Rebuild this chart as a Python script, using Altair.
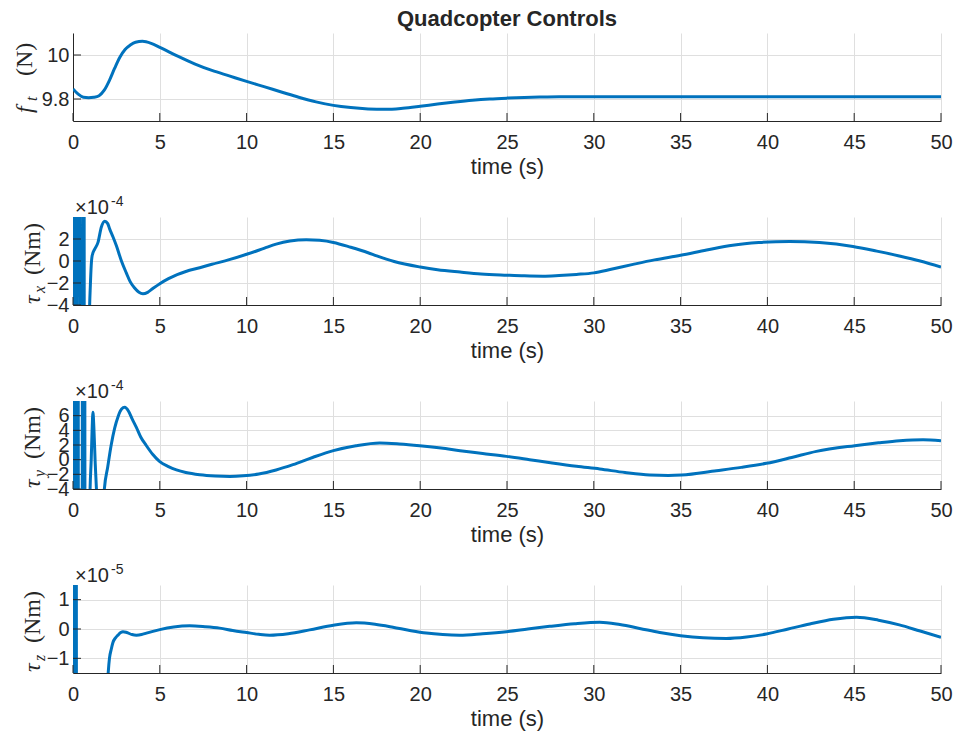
import altair as alt
import pandas as pd

# ---------------- data ----------------
t_ft = [0, 0.3, 0.6, 0.9, 1.2, 1.5, 1.8, 2.1, 2.4, 2.7, 3.0, 3.3, 3.6, 4.0, 4.5, 5.0,
        6.0, 7.0, 8.0, 9.0, 10.0, 11.0, 12.0, 13.0, 14.0, 15.0, 16.0, 17.0, 18.0, 19.0,
        20.0, 21.0, 22.0, 23.0, 24.0, 25.0, 26.0, 27.0, 28.0, 30.0, 35.0, 40.0, 45.0, 50.0]
v_ft = [9.846, 9.822, 9.808, 9.806, 9.808, 9.815, 9.84, 9.885, 9.94, 9.99, 10.025, 10.045,
        10.058, 10.062, 10.053, 10.035, 9.996, 9.96, 9.93, 9.905, 9.88, 9.856, 9.832, 9.808,
        9.787, 9.771, 9.761, 9.755, 9.753, 9.758, 9.767, 9.777, 9.786, 9.794, 9.8, 9.804,
        9.807, 9.809, 9.81, 9.81, 9.81, 9.81, 9.81, 9.81]

# tau_x in units of 1e-4 Nm
t_tx = [0, 0.03, 0.06, 0.09, 0.12, 0.15, 0.18, 0.21, 0.24,
        0.54, 0.57, 0.60, 0.63, 0.66,
        0.9, 0.95, 1.0, 1.05, 1.1, 1.25, 1.44, 1.63, 1.83, 2.0, 2.11, 2.3, 2.5, 2.79,
        3.07, 3.3, 3.55, 3.8, 4.03, 4.3, 4.6, 5.0, 5.5, 6.0, 6.5, 7.3, 8.0, 9.0, 10.0,
        11.0, 11.7, 12.5, 13.44, 14.2, 15.0, 16.0, 17.0, 17.5, 18.5, 20.0, 21.0, 22.3,
        23.5, 25.0, 26.0, 27.07, 28.0, 29.0, 30.0, 31.0, 32.26, 33.5, 35.0, 36.5, 38.0,
        39.5, 41.28, 43.0, 44.93, 46.3, 47.6, 48.8, 50.0]
v_tx = [40, -40, 40, -40, 40, -40, 40, -40, 40,
        -40, 40, -40, 40, -40,
        -10, -4.6, -2.2, -0.4, 0.46, 1.08, 1.69, 3.07, 3.62, 3.4, 2.92, 2.2, 1.38, 0.0,
        -1.08, -1.9, -2.46, -2.85, -2.98, -2.85, -2.5, -2.06, -1.6, -1.23, -0.95, -0.61,
        -0.3, 0.12, 0.61, 1.15, 1.53, 1.82, 1.94, 1.88, 1.69, 1.25, 0.75, 0.46, -0.05,
        -0.55, -0.8, -1.01, -1.18, -1.29, -1.35, -1.38, -1.32, -1.22, -1.08, -0.75, -0.31,
        0.1, 0.52, 1.0, 1.44, 1.68, 1.78, 1.68, 1.32, 0.9, 0.46, 0.0, -0.55]

# tau_y in units of 1e-4 Nm
t_ty = [0, 0.03, 0.06, 0.09,
        0.20, 0.23, 0.26, 0.29, 0.32,
        0.52, 0.55, 0.58, 0.61, 0.64, 0.67, 0.70,
        0.92, 0.98, 1.05, 1.1, 1.15, 1.2, 1.28, 1.36, 1.5, 1.7,
        1.8, 2.0, 2.2, 2.4, 2.6, 2.8, 2.98, 3.2, 3.4, 3.65, 3.9, 4.23, 4.6, 5.0, 5.5,
        5.96, 6.5, 7.3, 8.2, 9.03, 9.8, 10.7, 11.7, 12.67, 13.8, 15.0, 16.3, 17.67, 18.8,
        19.97, 21.2, 22.3, 23.6, 24.97, 26.3, 27.6, 29.0, 30.34, 31.8, 33.22, 34.3, 35.05,
        37.06, 38.5, 39.94, 41.4, 42.82, 45.03, 46.4, 47.62, 48.97, 50.0]
v_ty = [40, -40, 40, -40,
        -40, 40, -40, 40, -40,
        -40, 40, -40, 40, -40, 40, -40,
        -15, -4.5, 0.0, 4.0, 6.45, 4.5, -0.5, -4.5, -15, -10,
        -4.2, -1.0, 2.0, 4.3, 5.9, 6.9, 7.14, 6.6, 5.6, 4.4, 3.1, 1.9, 0.7, -0.27, -0.95,
        -1.4, -1.75, -2.05, -2.22, -2.28, -2.2, -1.95, -1.4, -0.68, 0.3, 1.23, 1.9, 2.28,
        2.15, 1.91, 1.58, 1.23, 0.85, 0.45, 0.0, -0.45, -0.9, -1.27, -1.75, -2.09, -2.15,
        -2.09, -1.5, -1.05, -0.5, 0.3, 1.13, 1.91, 2.3, 2.59, 2.73, 2.59]

# tau_z in units of 1e-5 Nm
t_tz = [0, 0.03, 0.06, 0.09, 0.12, 0.15, 0.18, 0.21,
        1.0, 1.9, 1.98, 2.04, 2.1, 2.2, 2.3, 2.45, 2.59, 2.75, 2.88, 3.1, 3.4, 3.65, 3.95,
        4.23, 4.6, 5.0, 5.8, 6.72, 7.6, 8.45, 9.2, 10.0, 10.7, 11.33, 12.4, 13.63, 15.0,
        16.32, 17.4, 18.43, 19.4, 20.35, 21.3, 22.27, 23.6, 24.97, 26.2, 27.46, 28.9,
        30.34, 31.5, 32.64, 33.8, 35.0, 36.3, 37.63, 38.8, 39.94, 41.2, 42.44, 43.8,
        45.13, 46.4, 47.6, 48.8, 50.0]
v_tz = [20, -20, 20, -20, 20, -20, 20, -20,
        -20, -5, -2.0, -1.4, -1.0, -0.7, -0.46, -0.3, -0.21, -0.12, -0.09, -0.12, -0.19,
        -0.21, -0.19, -0.14, -0.08, -0.02, 0.07, 0.11, 0.08, 0.03, -0.05, -0.12, -0.18,
        -0.21, -0.16, -0.03, 0.13, 0.21, 0.16, 0.06, -0.05, -0.14, -0.19, -0.21, -0.16,
        -0.09, 0.0, 0.09, 0.18, 0.23, 0.15, 0.02, -0.12, -0.23, -0.3, -0.32, -0.27, -0.17,
        0.0, 0.17, 0.33, 0.4, 0.3, 0.14, -0.07, -0.28]

x_ticks = [0, 5, 10, 15, 20, 25, 30, 35, 40, 45, 50]

# ---------------- style ----------------
W = 868
H = 88
BLUE = "#0072BD"
INK = "#262626"
FONT = "Liberation Sans"
SERIF = "Liberation Serif"
FS = 20
ONE = alt.Data(values=[{"k": 0}])


def txt(text, x, y, size=FS, font=FONT, angle=0, align="left", baseline="alphabetic",
        weight="normal", style="normal"):
    return alt.Chart(ONE).mark_text(
        text=text, font=font, fontSize=size, angle=angle, align=align,
        baseline=baseline, fontWeight=weight, fontStyle=style, color=INK
    ).encode(x=alt.value(x), y=alt.value(y))


def panel(t, v, domain, yticks, label, exponent=None, title=None):
    df = pd.DataFrame({"t": t, "v": v})
    xscale = alt.Scale(domain=[0, 50], nice=False, zero=False)
    yscale = alt.Scale(domain=domain, nice=False, zero=False)
    xaxis = alt.Axis(values=x_ticks, title="time (s)", grid=True, ticks=False,
                     labelFlush=False, labelPadding=11, titlePadding=4,
                     labelFont=FONT, titleFont=FONT, labelFontSize=FS, titleFontSize=22,
                     titleFontWeight="normal", labelColor=INK, titleColor=INK,
                     domainColor=INK, gridColor="#dfdfdf", format="~g")
    yaxis = alt.Axis(values=yticks, title=None, grid=True, ticks=False,
                     labelOverlap=False, labelFlush=False, labelPadding=4,
                     labelFont=FONT, labelFontSize=FS, labelColor=INK,
                     domainColor=INK, gridColor="#dfdfdf", format="~g")
    line = alt.Chart(df).mark_line(color=BLUE, strokeWidth=3, clip=True,
                                   interpolate="monotone").encode(
        x=alt.X("t:Q", scale=xscale, axis=xaxis),
        y=alt.Y("v:Q", scale=yscale, axis=yaxis))
    xt = alt.Chart(pd.DataFrame({"t": x_ticks})).mark_rule(color=INK, strokeWidth=1).encode(
        x=alt.X("t:Q", scale=xscale, axis=xaxis), y=alt.value(H), y2=alt.value(H - 8))
    yt = alt.Chart(pd.DataFrame({"v": yticks})).mark_rule(color=INK, strokeWidth=1).encode(
        y=alt.Y("v:Q", scale=yscale, axis=yaxis), x=alt.value(0), x2=alt.value(8))
    layers = [line, xt, yt]
    main, sub, unit, base_x, y0, y_sub, y_unit = label
    layers.append(txt(main, base_x, y0, size=24, font=SERIF, angle=270, style="italic"))
    layers.append(txt(sub, base_x + 5, y_sub, size=16, font=SERIF, angle=270, style="italic"))
    layers.append(txt(unit, base_x, y_unit, size=24, font=SERIF, angle=270))
    if exponent:
        layers.append(txt("\u00d710", 2, -3))
        layers.append(txt(exponent, 38, -11, size=14))
    if title:
        layers.append(txt(title, W / 2, -14, align="center", baseline="middle",
                          weight="bold", size=22))
    return alt.layer(*layers).properties(width=W, height=H)


p1 = panel(t_ft, v_ft, [9.7, 10.1], [9.8, 10.0],
           ("f", "t", "(N)", -41, 80, 68, 43), title="Quadcopter Controls")
p2 = panel(t_tx, v_tx, [-4, 4], [-4, -2, 0, 2],
           ("\u03c4", "x", "(Nm)", -33, 87, 76, 58), exponent="-4")
p3 = panel(t_ty, v_ty, [-4, 8], [-4, -2, 0, 2, 4, 6],
           ("\u03c4", "y", "(Nm)", -33, 87, 76, 58), exponent="-4")
p4 = panel(t_tz, v_tz, [-1.5, 1.5], [-1, 0, 1],
           ("\u03c4", "z", "(Nm)", -33, 87, 76, 58), exponent="-5")

chart = alt.vconcat(p1, p2, p3, p4, spacing=96, bounds="flush").properties(
    padding={"left": 13, "top": 8, "right": 0, "bottom": 4},
    background="white"
).configure_view(strokeWidth=0, stroke="transparent").configure_axis(
    domainWidth=1, gridWidth=1, gridOpacity=1
)

chart.save("out.html", embed_options={"renderer": "svg", "actions": False})
